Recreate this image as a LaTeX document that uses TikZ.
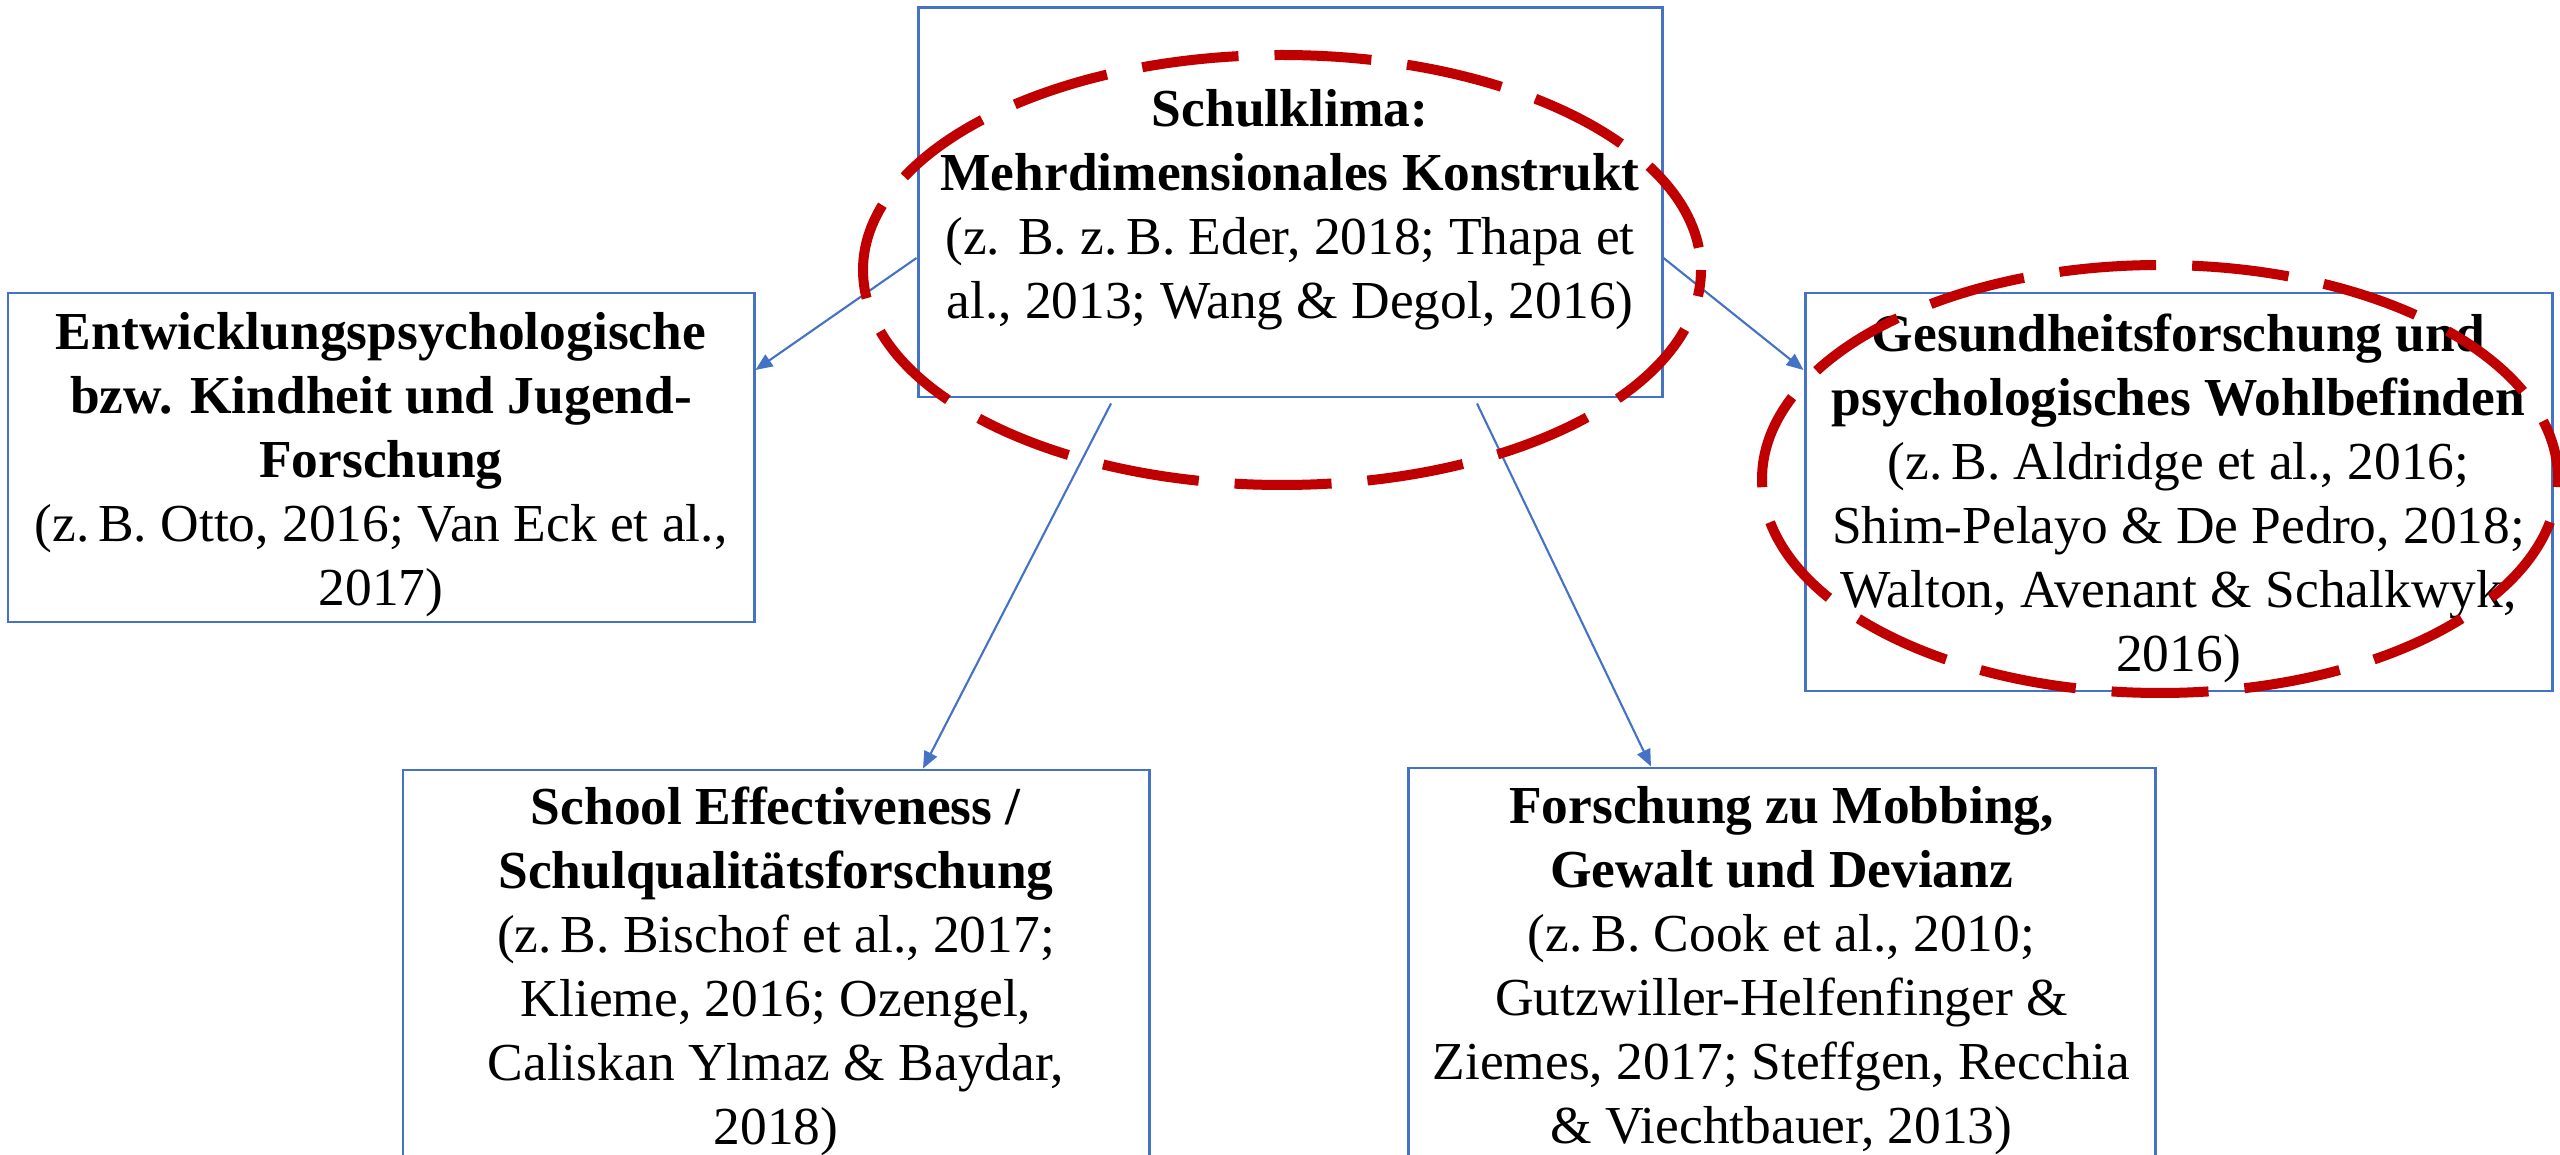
\documentclass[tikz,border=0pt]{standalone}
\usepackage{fontspec}
\setmainfont{Liberation Serif}
\usepackage{xcolor}
\usepackage{tikz}
\usetikzlibrary{arrows.meta, positioning, calc}

\definecolor{boxblue}{RGB}{68,114,196}
\definecolor{ringred}{RGB}{192,0,0}
\newcommand{\topgap}{\rule{0pt}{14.5pt}}

\begin{document}
\begin{tikzpicture}[
        field/.style={align=center, draw=boxblue, line width=0.85pt, inner xsep=2pt, inner ysep=0pt,
            font=\fontsize{15.2pt}{18.2pt}\selectfont},
        link/.style={draw=boxblue, line width=0.6pt, -{Triangle[length=1.7mm, width=1.4mm]}},
        redring/.style={draw=ringred, line width=1mm, dash pattern=on 9.7mm off 3.6mm}
    ]
        \useasboundingbox (0,0) rectangle (25.6,11.54);

        \node[field, minimum width=7.44cm, minimum height=3.89cm] at (12.90,9.515) (klima)
            {\topgap\textbf{Schulklima:}\\ \textbf{Mehrdimensionales Konstrukt}\\
            (z. B. z.\,B. Eder, 2018; Thapa et\\ al., 2013; Wang \& Degol, 2016)};

        \node[field, minimum width=7.46cm, minimum height=3.29cm] at (3.81,6.965) (entw)
            {\topgap\textbf{Entwicklungspsychologische}\\ \textbf{bzw. Kindheit und Jugend-}\\
            \textbf{Forschung}\\ (z.\,B. Otto, 2016; Van Eck et al.,\\ 2017)};

        \node[field, minimum width=7.47cm, minimum height=3.98cm] at (21.785,6.62) (gesund)
            {\topgap\textbf{Gesundheitsforschung und}\\ \textbf{psychologisches Wohlbefinden}\\
            (z.\,B. Aldridge et al., 2016;\\ Shim-Pelayo \& De Pedro, 2018;\\
            Walton, Avenant \& Schalkwyk,\\ 2016)};

        \node[field, minimum width=7.46cm, minimum height=3.90cm] at (7.76,1.89) (school)
            {\topgap\textbf{School Effectiveness /}\\ \textbf{Schulqualitätsforschung}\\
            (z.\,B. Bischof et al., 2017;\\ Klieme, 2016; Ozengel,\\
            Caliskan Ylmaz \& Baydar,\\ 2018)};

        \node[field, minimum width=7.47cm, minimum height=3.92cm] at (17.815,1.90) (mobbing)
            {\topgap\textbf{Forschung zu Mobbing,}\\ \textbf{Gewalt und Devianz}\\
            (z.\,B. Cook et al., 2010;\\ Gutzwiller-Helfenfinger \&\\
            Ziemes, 2017; Steffgen, Recchia\\ \& Viechtbauer, 2013)};

        \draw[link] ([yshift=-5.55mm]klima.west) -- ([yshift=8.75mm]entw.east);
        \draw[link] ([yshift=-5.55mm]klima.east) -- ([yshift=12.2mm]gesund.west);
        \draw[link] ([xshift=-17.9mm, yshift=-0.5mm]klima.south) -- ([xshift=14.7mm]school.north);
        \draw[link] ([xshift=18.7mm, yshift=-0.5mm]klima.south) -- ([xshift=-13.05mm]mobbing.north);

        % highlighted fields
        \draw[redring, dash phase=11.05mm] (12.82,8.84) ellipse [x radius=4.19, y radius=2.15];
        \draw[redring, dash phase=3.65mm] (21.60,6.75) ellipse [x radius=3.98, y radius=2.14];
    \end{tikzpicture}
\end{document}
